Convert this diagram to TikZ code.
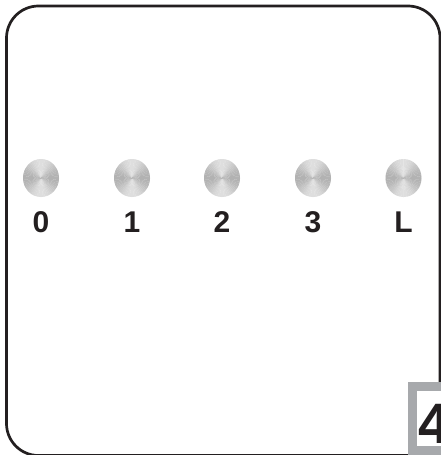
\documentclass[tikz,border=0pt]{standalone}
\usepackage{fontspec}
\setmainfont{Liberation Sans}
\definecolor{frameink}{HTML}{231F20}
\definecolor{boxgray}{HTML}{A7A9AC}
\tikzset{
  lbl/.style={font=\fontsize{30}{30}\selectfont\bfseries, text=frameink, inner sep=0pt, anchor=base},
  bigdigit/.style={font=\fontsize{57}{57}\selectfont\bfseries, text=frameink, inner sep=0pt, anchor=base west},
}
\begin{document}
\begin{tikzpicture}[x=1pt,y=-1pt]
\useasboundingbox (0,0) rectangle (441,455);
\clip (0,0) rectangle (441,455);
\fill[white] (0,0) rectangle (441,455);
\draw[frameink, line width=2.7pt, rounded corners=32pt] (6.5,6) rectangle (440,455.5);
% knobs
\foreach \i/\x/\t in {0/41/0,1/132/1,2/222/2,3/313/3,4/403.5/L}{
  \begin{scope}
    \clip (\x,178) ellipse [x radius=18, y radius=19];
    \foreach \a in {0,6,...,354}{
      \pgfmathsetmacro{\g}{int(22+9*cos(2*(\a+3)))}
      \fill[black!\g!white] (\x,178) -- ++(\a:22) arc[start angle=\a, end angle=\a+6.6, radius=22] -- cycle;
    }
  \end{scope}
  \coordinate (k\i) at (\x,178);
  \node[lbl] (t\i) at (\x,232) {\t};
}
% page number box
\fill[boxgray] (408,382) rectangle (445,455);
\fill[white] (417,391) rectangle (445,446);
\node[bigdigit] (pg) at (418.5,443) {4};
\end{tikzpicture}
\end{document}
